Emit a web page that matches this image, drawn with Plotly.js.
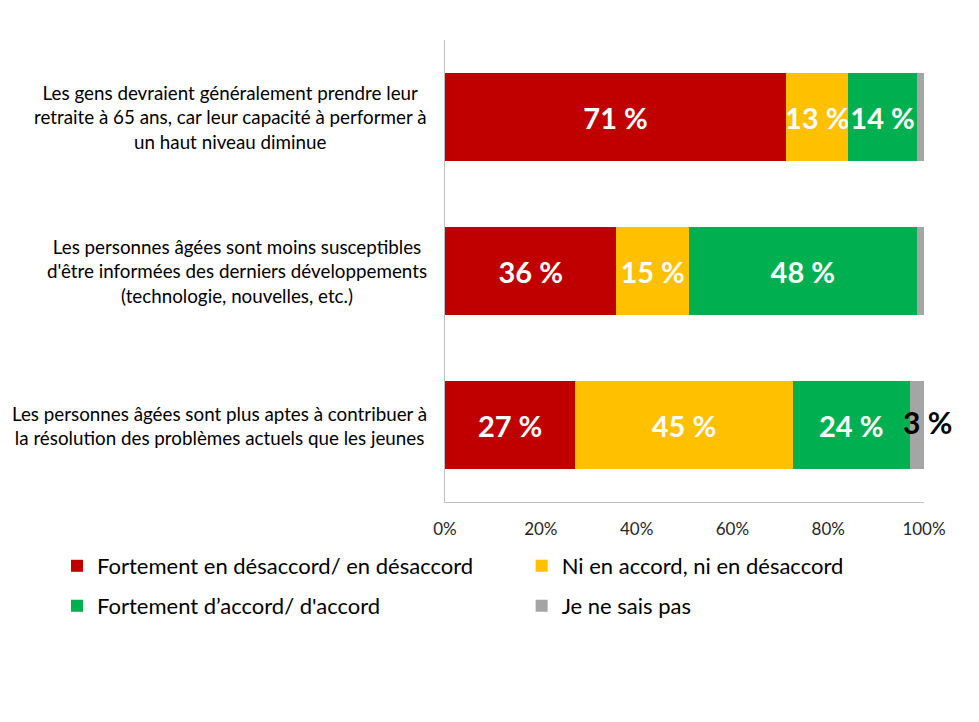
<!DOCTYPE html>
<html>
<head>
<meta charset="utf-8">
<script src="https://cdn.plot.ly/plotly-3.0.1.min.js"></script>
<style>html,body{margin:0;padding:0;background:#fff;}#chart{width:979px;height:722px;}</style>
</head>
<body>
<div id="chart"></div>
<script>
const categories = [
  "Les gens devraient généralement prendre leur<br>retraite à 65 ans, car leur capacité à performer à<br>un haut niveau diminue",
  "Les personnes âgées sont moins susceptibles<br>d'être informées des derniers développements<br>(technologie, nouvelles, etc.)",
  "Les personnes âgées sont plus aptes à contribuer à<br>la résolution des problèmes actuels que les jeunes"
];
const seriesNames = ["Fortement en désaccord/ en désaccord", "Ni en accord, ni en désaccord", "Fortement d’accord/ d'accord", "Je ne sais pas"];
const disagree = [71.2, 35.8, 27.2];
const neutral = [13.0, 15.1, 45.4];
const agree = [14.3, 47.6, 24.4];
const dontKnow = [1.5, 1.5, 3.0];
const tickVals = [0, 20, 40, 60, 80, 100];
const colors = ["#C00000", "#FFC000", "#00B050", "#A5A5A5"];

const FONT = "Lato, 'Open Sans', sans-serif";
const ids = ["c0", "c1", "c2"];
const legendIds = ["legend", "legend2", "legend3", "legend4"];
function mk(vals, i, showText) {
  return {
    type: "bar", orientation: "h", y: ids, x: vals, name: seriesNames[i],
    marker: {color: colors[i], line: {width: 0}},
    text: showText ? vals.map(v => Math.round(v) + " %") : undefined,
    textposition: showText ? "inside" : "none",
    insidetextanchor: "middle",
    constraintext: "none",
    textangle: 0,
    textfont: {family: FONT, size: 29, color: "#ffffff", weight: "bold"},
    hoverinfo: "skip",
    legend: legendIds[i]
  };
}
const traces = [
  mk(disagree, 0, true),
  mk(neutral, 1, true),
  mk(agree, 2, true),
  mk(dontKnow, 3, false)
];

const annotations = categories.map((c, i) => ({
  xref: "paper", yref: "y", x: 0, y: ids[i], xanchor: "right", yanchor: "middle",
  xshift: -16, text: c, align: "center", showarrow: false,
  font: {family: FONT, size: 18.8, color: "#000"}
}));
// label for the "Je ne sais pas" segment of the last row
const lastIdx = 2;
const total = disagree[lastIdx] + neutral[lastIdx] + agree[lastIdx] + dontKnow[lastIdx];
annotations.push({
  xref: "x", yref: "y", x: total, y: ids[lastIdx], xanchor: "center", yanchor: "middle",
  xshift: 3, yshift: 3, text: Math.round(dontKnow[lastIdx]) + " %", showarrow: false,
  font: {family: FONT, size: 30, color: "#000", weight: "bold"}
});

function leg(xp, yp) {
  return {
    orientation: "h", xref: "paper", yref: "paper", x: xp, y: yp, xanchor: "left", yanchor: "middle",
    font: {family: FONT, size: 22, color: "#000"}, bgcolor: "rgba(0,0,0,0)"
  };
}
const colX = [-0.81, 0.16];
const rowY = [-0.1385, -0.225];

const layout = {
  width: 979, height: 722,
  margin: {l: 445, r: 55, t: 40, b: 220},
  barmode: "stack", bargap: 0.43,
  paper_bgcolor: "#fff", plot_bgcolor: "#fff",
  showlegend: true,
  legend: leg(colX[0], rowY[0]),
  legend2: leg(colX[1], rowY[0]),
  legend3: leg(colX[0], rowY[1]),
  legend4: leg(colX[1], rowY[1]),
  xaxis: {
    range: [0, 100], tickvals: tickVals, ticktext: tickVals.map(v => v + "%"),
    showgrid: false, zeroline: false, showline: true, linecolor: "#BFBFBF", linewidth: 1,
    ticks: "", ticklabelstandoff: 12,
    tickfont: {family: FONT, size: 17, color: "#262626"}, fixedrange: true
  },
  yaxis: {
    type: "category", categoryorder: "array", categoryarray: ids, autorange: "reversed",
    showgrid: false, zeroline: false, showline: true, linecolor: "#BFBFBF", linewidth: 1,
    showticklabels: false, ticks: "", fixedrange: true
  },
  annotations: annotations
};

Plotly.newPlot("chart", traces, layout, {displayModeBar: false, staticPlot: true});
</script>
</body>
</html>
